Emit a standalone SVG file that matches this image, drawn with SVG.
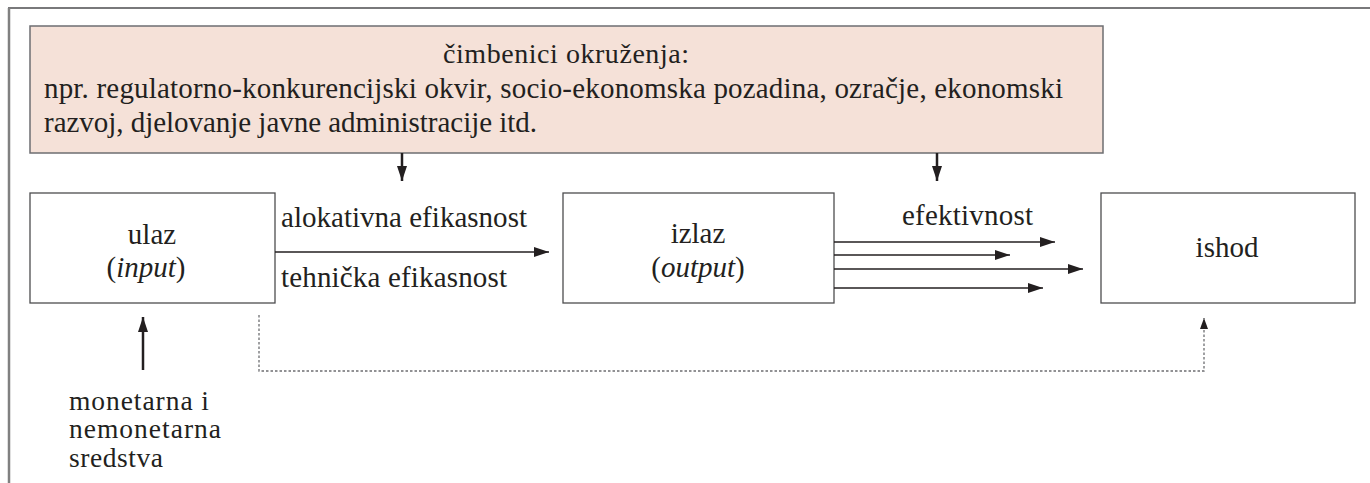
<svg xmlns="http://www.w3.org/2000/svg" width="1370" height="483" viewBox="0 0 1370 483">
<style>
  .t { font-family: "Liberation Serif", "DejaVu Serif", serif; font-size: 29px; fill: #231f20; }
  .s { font-size: 27.5px; }
  .box { fill: #ffffff; stroke: #4d4d4f; stroke-width: 1.3; }
  .env { fill: #f5e1d8; stroke: #6d6e71; stroke-width: 1.5; }
  .ln { fill: none; stroke: #231f20; stroke-width: 1.5; }
  .thick { fill: none; stroke: #231f20; stroke-width: 2.5; }
  .dot { fill: none; stroke: #6d6e71; stroke-width: 1.3; stroke-dasharray: 2.5 2; }
</style>
<defs>
  <marker id="ah" markerUnits="userSpaceOnUse" markerWidth="16" markerHeight="12" refX="15" refY="5" orient="auto">
    <path d="M0,0 L15,5 L0,10 Z" fill="#231f20"/>
  </marker>
  <marker id="ahs" markerUnits="userSpaceOnUse" markerWidth="12" markerHeight="10" refX="11" refY="4" orient="auto">
    <path d="M0,0 L11,4 L0,8 Z" fill="#231f20"/>
  </marker>
</defs>
<rect width="1370" height="483" fill="#ffffff"/>
<g id="frame">
  <line x1="8" y1="8" x2="1370" y2="8" stroke="#4d4d4f" stroke-width="1.3"/>
  <line x1="9" y1="8" x2="9" y2="483" stroke="#808080" stroke-width="2.5"/>
</g>
<g id="environment">
  <rect class="env" x="30" y="26" width="1073" height="127"/>
  <text class="t" x="443" y="63" textLength="246" style="font-size:28px">čimbenici okruženja:</text>
  <text class="t" x="44" y="98" textLength="1019">npr. regulatorno-konkurencijski okvir, socio-ekonomska pozadina, ozračje, ekonomski</text>
  <text class="t" x="44" y="132" textLength="493">razvoj, djelovanje javne administracije itd.</text>
</g>
<g id="ulaz">
  <rect class="box" x="30" y="193" width="245" height="110"/>
  <text class="t" x="152" y="244" text-anchor="middle">ulaz</text>
  <text class="t" x="146" y="277" text-anchor="middle">(<tspan font-style="italic">input</tspan>)</text>
</g>
<g id="izlaz">
  <rect class="box" x="563" y="193" width="271" height="110"/>
  <text class="t" x="698" y="243" text-anchor="middle">izlaz</text>
  <text class="t" x="698" y="277" text-anchor="middle">(<tspan font-style="italic">output</tspan>)</text>
</g>
<g id="ishod">
  <rect class="box" x="1101" y="193" width="254" height="110"/>
  <text class="t" x="1227" y="257" text-anchor="middle">ishod</text>
</g>
<g id="sredstva">
  <text class="t s" x="69" y="410" textLength="140">monetarna i</text>
  <text class="t s" x="69" y="438" textLength="152">nemonetarna</text>
  <text class="t s" x="69" y="467" textLength="94">sredstva</text>
</g>
<g id="connectors">
  <line class="thick" x1="402" y1="153" x2="402" y2="181" marker-end="url(#ah)"/>
  <line class="thick" x1="937" y1="153" x2="937" y2="181" marker-end="url(#ah)"/>
  <line class="ln" x1="275" y1="252" x2="549" y2="252" marker-end="url(#ah)"/>
  <line class="ln" x1="834" y1="242" x2="1055" y2="242" marker-end="url(#ah)"/>
  <line class="ln" x1="834" y1="255" x2="1010" y2="255" marker-end="url(#ah)"/>
  <line class="ln" x1="834" y1="269" x2="1083" y2="269" marker-end="url(#ah)"/>
  <line class="ln" x1="834" y1="288" x2="1043" y2="288" marker-end="url(#ah)"/>
  <line class="thick" x1="143" y1="370" x2="143" y2="317" marker-end="url(#ah)"/>
  <path class="dot" d="M259,315 V371 H1204 V318" marker-end="url(#ahs)"/>
</g>
<g id="labels">
  <text class="t" x="281" y="227" textLength="246">alokativna efikasnost</text>
  <text class="t" x="281" y="287" textLength="226">tehnička efikasnost</text>
  <text class="t" x="902" y="225" textLength="131">efektivnost</text>
</g>
</svg>
